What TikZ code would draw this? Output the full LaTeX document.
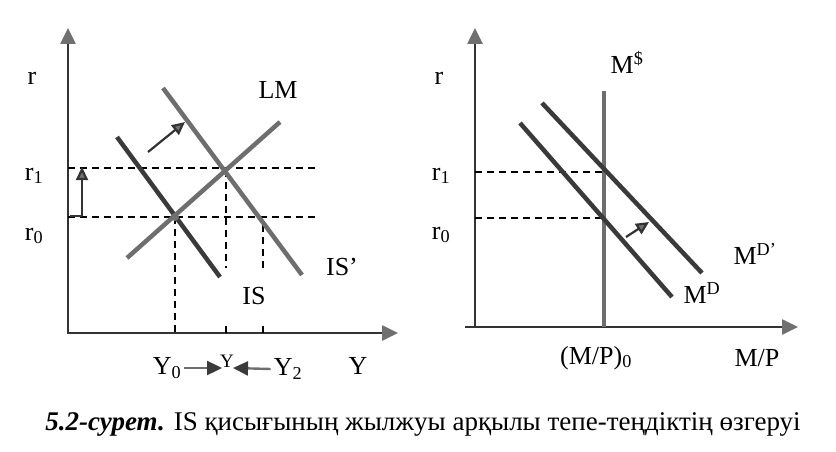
\documentclass[tikz,border=0pt]{standalone}
\usepackage{fontspec}
\setmainfont{Liberation Serif}
\usetikzlibrary{arrows.meta}
\definecolor{axisc}{HTML}{333333}
\definecolor{darkc}{HTML}{3A3A3A}
\definecolor{lightc}{HTML}{6E6E6E}
\definecolor{tipc}{HTML}{707070}
\tikzset{
  axis/.style={line width=2.6pt, draw=axisc, -{Triangle[length=16pt,width=15pt,fill=tipc,color=tipc]}},
  curvedark/.style={line width=4.5pt, draw=darkc},
  curvelight/.style={line width=4.5pt, draw=lightc},
  guide/.style={line width=1.6pt, draw=black, dash pattern=on 7pt off 5pt},
  shiftarrow/.style={line width=2.2pt, draw=axisc, -{Triangle[length=13pt,width=12pt,fill=tipc,color=axisc]}},
  yarrow/.style={line width=2.4pt, draw=lightc, -{Triangle[length=15pt,width=14pt,fill=darkc,color=darkc]}},
  lbl/.style={font=\fontsize{26}{30}\selectfont, inner sep=0pt},
  capt/.style={font=\fontsize{27}{30}\selectfont, inner sep=0pt},
}
\begin{document}
\begin{tikzpicture}[x=1pt,y=-1pt]
\useasboundingbox (0,0) rectangle (836,452);
% ---------- left panel ----------
\coordinate (O1) at (68,333);
\coordinate (Ytop1) at (68,28);
\coordinate (Xend1) at (398,333);
\draw[axis] (O1) -- (Ytop1);
\draw[axis] ([xshift=-1pt]O1) -- (Xend1);
% dashed guides
\coordinate (r1a) at (68,168); \coordinate (r1b) at (316,168);
\coordinate (r0a) at (68,217); \coordinate (r0b) at (316,217);
\draw[guide] (r1a) -- (r1b);
\draw[guide] (r0a) -- (r0b);
\coordinate (E0) at (175,217);
\coordinate (E0b) at (175,333);
\draw[guide] (E0) -- (E0b);
\coordinate (E1) at (226,170);
\coordinate (E1b) at (226,268);
\draw[guide] (E1) -- (E1b);
\coordinate (E2) at (263,225);
\coordinate (E2b) at (263,268);
\draw[guide] (E2) -- (E2b);
% ticks
\coordinate (t1a) at (226,326); \coordinate (t1b) at (226,333);
\coordinate (t2a) at (263,326); \coordinate (t2b) at (263,333);
\draw[line width=1.6pt] (t1a) -- (t1b);
\draw[line width=1.6pt] (t2a) -- (t2b);
% curves
\coordinate (IS1) at (117,137); \coordinate (IS2) at (220,277);
\coordinate (ISp1) at (163,88); \coordinate (ISp2) at (302,275);
\coordinate (LM1) at (127,258); \coordinate (LM2) at (280,122);
\draw[curvedark] (IS1) -- (IS2);
\draw[curvelight] (ISp1) -- (ISp2);
\draw[curvelight] (LM1) -- (LM2);
\fill[tipc] (E0) circle (4pt);
% shift arrows
\coordinate (sa1) at (148,152); \coordinate (sa2) at (185,122);
\draw[shiftarrow] (sa1) -- (sa2);
\coordinate (va1) at (82,216); \coordinate (va2) at (82,167);
\coordinate (va0) at (70,216);
\draw[line width=2.2pt, draw=axisc] (va0) -- (va1);
\draw[shiftarrow] (va1) -- (va2);
% labels
\node[lbl] (rL) at (32,78) {r};
\node[lbl] (r1L) at (34,176) {r\textsubscript{1}};
\node[lbl] (r0L) at (34,236) {r\textsubscript{0}};
\node[lbl] (LML) at (278,90) {LM};
\node[lbl] (ISpL) at (342,267) {IS’};
\node[lbl] (ISL) at (254,296) {IS};
\node[lbl] (YL) at (358,366) {Y};
\node[lbl] (Y0L) at (167,368) {Y\textsubscript{0}};
\node[lbl, font=\fontsize{19}{21}\selectfont] (YpL) at (227,361) {Y};
\node[lbl] (Y2L) at (288,369) {Y\textsubscript{2}};
\draw[yarrow] (Y0L.east) ++(3pt,0) coordinate (ya1) -- (222,368) coordinate (ya2);
\draw[yarrow] (Y2L.west) ++(-3pt,0) coordinate (yb1) -- (233,368) coordinate (yb2);
% ---------- right panel ----------
\coordinate (O2) at (475,327);
\coordinate (Ytop2) at (475,28);
\coordinate (Xend2) at (798,327);
\draw[axis] (O2) -- (Ytop2);
\draw[axis] (465,327) -- (Xend2);
\coordinate (q1a) at (475,172); \coordinate (q1b) at (602,172);
\coordinate (q0a) at (475,218); \coordinate (q0b) at (602,218);
\draw[guide] (q1a) -- (q1b);
\draw[guide] (q0a) -- (q0b);
\coordinate (MS1) at (604,91); \coordinate (MS2) at (604,327);
\draw[line width=4pt, draw=lightc] (MS1) -- (MS2);
\coordinate (MD1) at (520,123); \coordinate (MD2) at (672,297);
\coordinate (MDp1) at (542,103); \coordinate (MDp2) at (702,273);
\draw[curvedark] (MD1) -- (MD2);
\draw[curvedark] (MDp1) -- (MDp2);
\coordinate (ma1) at (626,237); \coordinate (ma2) at (649,222);
\draw[shiftarrow] (ma1) -- (ma2);
\node[lbl] (rR) at (439,78) {r};
\node[lbl] (r1R) at (441,176) {r\textsubscript{1}};
\node[lbl] (r0R) at (441,235) {r\textsubscript{0}};
\node[lbl] (MSL) at (627,62) {M\textsuperscript{\$}};
\node[lbl] (MDL) at (702,293) {M\textsuperscript{D}};
\node[lbl] (MDpL) at (755,254) {M\textsuperscript{D’}};
\node[lbl] (MP0L) at (596,358) {(M/P)\textsubscript{0}};
\node[lbl] (MPL) at (757,358) {M/P};
% caption
\node[capt] (cap) at (423,424) {\textbf{\textit{5.2-сурет.}} IS қисығының жылжуы арқылы тепе-теңдіктің өзгеруі};
\end{tikzpicture}
\end{document}
